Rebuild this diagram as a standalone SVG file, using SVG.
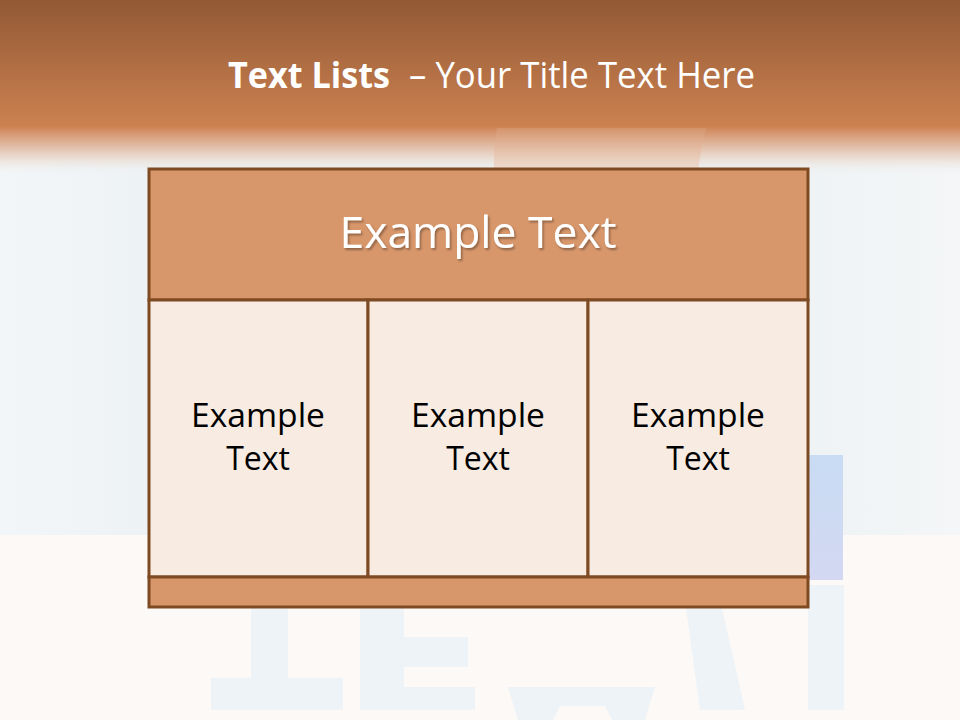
<svg xmlns="http://www.w3.org/2000/svg" width="960" height="720" viewBox="0 0 960 720">
<defs>
<linearGradient id="bgTop" x1="0" y1="0" x2="0" y2="1">
<stop offset="0" stop-color="#925935"/>
<stop offset="0.72" stop-color="#cc8150"/>
<stop offset="0.78" stop-color="#d9a17f"/>
<stop offset="0.9" stop-color="#ebdcd2"/>
<stop offset="1" stop-color="#eef2f4" stop-opacity="0"/>
</linearGradient>
<linearGradient id="bgMid" x1="0" y1="0" x2="1" y2="0">
<stop offset="0" stop-color="#f3f6f8"/>
<stop offset="0.2" stop-color="#ecf1f4"/>
<stop offset="0.8" stop-color="#edf2f4"/>
<stop offset="1" stop-color="#f4f6f7"/>
</linearGradient>
<linearGradient id="blueBar" x1="0" y1="0" x2="0" y2="1">
<stop offset="0" stop-color="#c8dcf3"/>
<stop offset="1" stop-color="#d4d8f2"/>
</linearGradient>
<linearGradient id="pinkFade" x1="0" y1="0" x2="0" y2="1">
<stop offset="0" stop-color="#d9a07c" stop-opacity="0.5"/>
<stop offset="1" stop-color="#f0d2c0" stop-opacity="0.6"/>
</linearGradient>
<filter id="shadow" x="-10%" y="-20%" width="120%" height="150%">
<feDropShadow dx="1.5" dy="2" stdDeviation="1.2" flood-color="#000" flood-opacity="0.35"/>
</filter>
<style>
.frame{stroke:#7e4a22;stroke-width:3}
.dark{fill:#d8976b}
.light{fill:#f7ebe2}
.cell{font-family:"Open Sans","Noto Sans",sans-serif;font-size:32px;fill:#000;text-anchor:middle}
.ghost{fill:#edf3f7}
</style>
</defs>
<rect x="0" y="0" width="960" height="720" fill="#fdf9f6"/>
<rect x="0" y="140" width="960" height="395" fill="url(#bgMid)"/>
<rect x="0" y="0" width="960" height="175" fill="url(#bgTop)"/>
<path d="M497 128 L706 128 Q700 150 698 175 L494 175 Q493 150 497 128 Z" fill="url(#pinkFade)"/>
<rect x="808" y="455" width="35" height="125" fill="url(#blueBar)"/>
<g id="ghostLetters">
<rect x="251" y="608" width="37" height="102" class="ghost"/>
<rect x="211" y="678" width="132" height="32" class="ghost"/>
<rect x="360" y="608" width="44" height="102" class="ghost"/>
<rect x="360" y="637" width="108" height="30" class="ghost"/>
<rect x="360" y="687" width="115" height="23" class="ghost"/>
<path d="M508 687 L655 687 L645 720 L612 720 L605 706 L560 706 L553 720 L518 720 Z" class="ghost"/>
<path d="M686 608 L722 608 L745 710 L700 710 Z" class="ghost"/>
<rect x="808" y="585" width="36" height="125" class="ghost"/>
</g>
<g id="title">
<text x="228" y="88" font-family="'Open Sans','Noto Sans',sans-serif" font-size="36" fill="#ffffff"><tspan font-weight="bold" textLength="162" lengthAdjust="spacingAndGlyphs">Text Lists</tspan><tspan x="409" textLength="346" lengthAdjust="spacingAndGlyphs">– Your Title Text Here</tspan></text>
</g>
<g id="header">
<rect x="149" y="169" width="659" height="131" class="frame dark"/>
<text x="478" y="248" font-family="'Open Sans','Noto Sans',sans-serif" font-size="44" fill="#ffffff" text-anchor="middle" filter="url(#shadow)" textLength="277" lengthAdjust="spacingAndGlyphs">Example Text</text>
</g>
<g id="cell1">
<rect x="149" y="300" width="219" height="277" class="frame light"/>
<text class="cell" x="258" y="427" textLength="134" lengthAdjust="spacingAndGlyphs">Example</text>
<text class="cell" x="258" y="470">Text</text>
</g>
<g id="cell2">
<rect x="368" y="300" width="220" height="277" class="frame light"/>
<text class="cell" x="478" y="427" textLength="134" lengthAdjust="spacingAndGlyphs">Example</text>
<text class="cell" x="478" y="470">Text</text>
</g>
<g id="cell3">
<rect x="588" y="300" width="220" height="277" class="frame light"/>
<text class="cell" x="698" y="427" textLength="134" lengthAdjust="spacingAndGlyphs">Example</text>
<text class="cell" x="698" y="470">Text</text>
</g>
<g id="footer">
<rect x="149" y="577" width="659" height="30" class="frame dark"/>
</g>
<g id="connectors"/>
</svg>
